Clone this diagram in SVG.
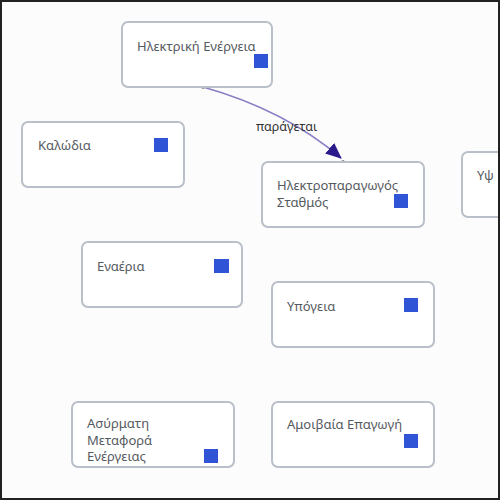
<svg xmlns="http://www.w3.org/2000/svg" width="500" height="500" viewBox="0 0 500 500">
<defs>
<style>
.box{fill:#ffffff;stroke:#b9c0c9;stroke-width:2}
.t{font-family:"Noto Sans","Open Sans","DejaVu Sans",sans-serif;font-size:13px;fill:#555a60}
.sq{fill:#2f55d6}
.edge{fill:none;stroke:#8a7fc4;stroke-width:1.8}
.lbl{font-family:"Noto Sans","Open Sans","DejaVu Sans",sans-serif;font-size:12.5px;fill:#333}
.dot{fill:#555}
</style>
<marker id="arr" viewBox="0 0 16 14" refX="15" refY="7" markerWidth="16" markerHeight="14" markerUnits="userSpaceOnUse" orient="auto">
<path d="M0,0 L16,7 L0,14 Z" fill="#2a1a8c"/>
</marker>
</defs>
<rect x="0" y="0" width="500" height="500" fill="#fcfcfc"/>
<g id="connectors">
<path class="edge" d="M203,87 Q285,110 341,158" marker-end="url(#arr)"/>
<text class="lbl" x="256" y="131">παράγεται</text>
<circle class="dot" cx="203" cy="87" r="1.8"/>
<circle class="dot" cx="343" cy="162" r="1.8"/>
</g>
<g id="n1"><rect class="box" x="122" y="22" width="150" height="65" rx="6"/><text class="t" x="137" y="51">Ηλεκτρική Ενέργεια</text><rect class="sq" x="254" y="54" width="14" height="14"/></g>
<g id="n2"><rect class="box" x="22" y="122" width="162" height="65" rx="6"/><text class="t" x="38" y="150">Καλώδια</text><rect class="sq" x="154" y="138" width="14" height="14"/></g>
<g id="n3"><rect class="box" x="262" y="162" width="162" height="65" rx="6"/><text class="t" x="277" y="190">Ηλεκτροπαραγωγός</text><text class="t" x="277" y="207">Σταθμός</text><rect class="sq" x="394" y="194" width="14" height="14"/></g>
<g id="n4"><rect class="box" x="462" y="152" width="60" height="65" rx="6"/><text class="t" x="477" y="180">Υψ</text></g>
<g id="n5"><rect class="box" x="82" y="242" width="160" height="65" rx="6"/><text class="t" x="97" y="271">Εναέρια</text><rect class="sq" x="214" y="259" width="15" height="14"/></g>
<g id="n6"><rect class="box" x="272" y="282" width="162" height="65" rx="6"/><text class="t" x="287" y="311">Υπόγεια</text><rect class="sq" x="404" y="298" width="14" height="14"/></g>
<g id="n7"><rect class="box" x="72" y="402" width="162" height="65" rx="6"/><text class="t" x="87" y="428">Ασύρματη</text><text class="t" x="87" y="444.5">Μεταφορά</text><text class="t" x="87" y="461">Ενέργειας</text><rect class="sq" x="204" y="449" width="14" height="14"/></g>
<g id="n8"><rect class="box" x="272" y="402" width="162" height="65" rx="6"/><text class="t" x="287" y="429">Αμοιβαία Επαγωγή</text><rect class="sq" x="404" y="434" width="14" height="14"/></g>
<rect x="1" y="1" width="498" height="498" fill="none" stroke="#222" stroke-width="2"/>
</svg>
